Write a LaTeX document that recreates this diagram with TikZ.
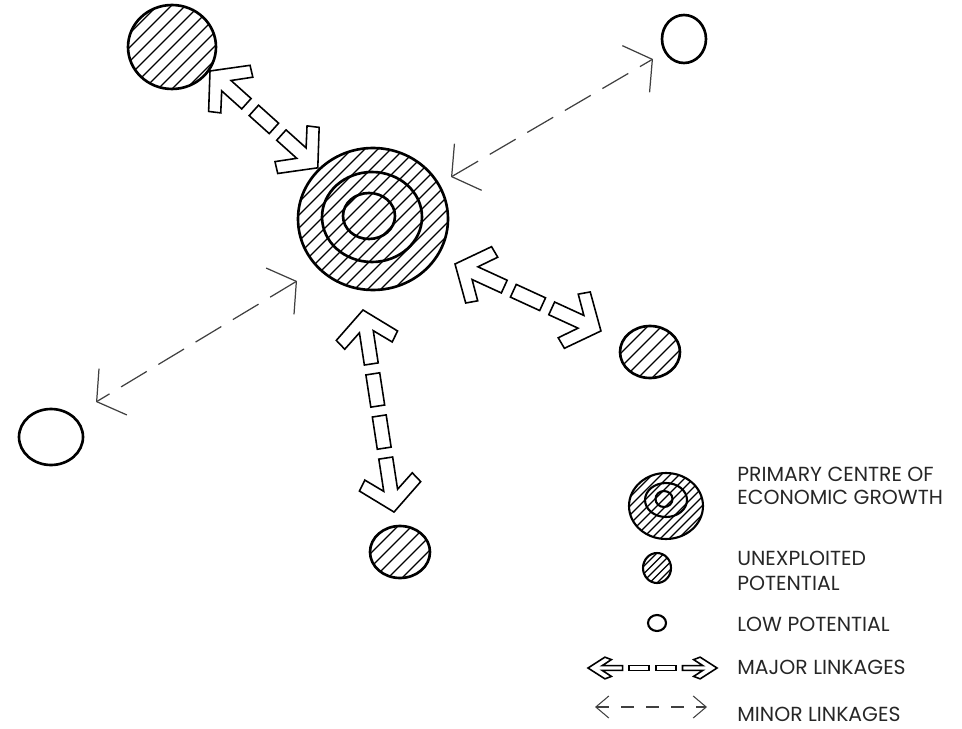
\documentclass[tikz,border=0pt]{standalone}
\usepackage{fontspec}
\setmainfont{Poppins}
\usetikzlibrary{positioning,arrows.meta,calc,shapes.geometric}

% block arrow with a broken shaft, drawn between two named points
\newcommand{\majorlink}[5]{%
  \pgfpointdiff{\pgfpointanchor{#1}{center}}{\pgfpointanchor{#2}{center}}%
  \pgfgetlastxy{\mlx}{\mly}%
  \pgfmathsetmacro{\mlang}{atan2(\mly,\mlx)}%
  \pgfmathsetmacro{\mllen}{veclen(\mlx,\mly)/(0.569055*#4)}%
  \pgfmathsetmacro{\mlpiece}{(\mllen-44-(#3+1)*10)/(#3+2)}%
  \begin{scope}[shift={(#1)}, rotate=\mlang, x=0.02cm, y=0.02cm, xscale=#4, yscale=#5]
    \draw[linkedge] (0,0) -- (26,31) -- (36,24) -- (22,7) -- (22+\mlpiece,7)
      -- (22+\mlpiece,-7) -- (22,-7) -- (36,-24) -- (26,-31) -- cycle;
    \draw[linkedge] (\mllen,0) -- (\mllen-26,31) -- (\mllen-36,24) -- (\mllen-22,7)
      -- (\mllen-22-\mlpiece,7) -- (\mllen-22-\mlpiece,-7) -- (\mllen-22,-7)
      -- (\mllen-36,-24) -- (\mllen-26,-31) -- cycle;
    \foreach \k in {1,...,#3}
      \draw[linkedge] ({22+\k*(\mlpiece+10)},-7) rectangle ++(\mlpiece,14);
  \end{scope}}

\begin{document}
\begin{tikzpicture}[
  x=0.02cm, y=-0.02cm,
  place/.style={ellipse, draw, line width=1.5pt, inner sep=0pt},
  ring/.style={ellipse, draw, line width=1.5pt, inner sep=0pt},
  hatched/.style={path picture={
      \foreach \k in {-20,...,20}
        \draw[line width=0.75pt] ([xshift=\k*#1-4cm, yshift=-4cm]path picture bounding box.center) -- ++(8cm,8cm);}},
  hatched/.default=0.28cm,
  linkedge/.style={draw, line width=0.9pt, fill=white, line join=miter},
  minor/.style={draw=black!75, line width=0.7pt, dash pattern=on 0.6cm off 0.27cm,
      <->, >={Straight Barb[length=3.8mm,width=10.8mm]}},
  keyminor/.style={draw=black!75, line width=0.6pt, dash pattern=on 0.25cm off 0.25cm,
      <->, >={Straight Barb[length=2.6mm,width=4.4mm]}},
  keytext/.style={anchor=west, inner sep=0pt, align=left, text=black!85,
      font=\fontsize{11.6}{13.5}\selectfont}
]
\useasboundingbox (0,0) rectangle (962,729);

% places
\node[place, hatched=0.26cm, minimum width=3cm, minimum height=2.84cm] (centre) at (373,219) {};
\node[ring, minimum width=2cm, minimum height=1.8cm] (centreMid) at (372,217) {};
\node[ring, minimum width=1.04cm, minimum height=0.92cm] (centreIn) at (369,216) {};
\node[place, hatched, minimum width=1.76cm, minimum height=1.68cm] (nw) at (172,47) {};
\node[place, minimum width=0.88cm, minimum height=0.96cm] (ne) at (684,39) {};
\node[place, hatched, minimum width=1.2cm, minimum height=1.04cm] (east) at (650,352) {};
\node[place, hatched, minimum width=1.2cm, minimum height=1.04cm] (south) at (400,552) {};
\node[place, minimum width=1.28cm, minimum height=1.12cm] (sw) at (51,437) {};

% link ends
\coordinate (nwA) at (210,71);   \coordinate (nwB) at (318,168);
\coordinate (eA) at (455,264);   \coordinate (eB) at (601,331);
\coordinate (sA) at (363,310);   \coordinate (sB) at (394,512);
\coordinate (neA) at (451,177);  \coordinate (neB) at (653,59);
\coordinate (swA) at (297,281);  \coordinate (swB) at (96,402);

% major linkages
\majorlink{nwA}{nwB}{1}{1}{1}
\majorlink{eA}{eB}{1}{1}{1}
\majorlink{sA}{sB}{2}{1}{1}

% minor linkages
\draw[minor] (neA) -- (neB);
\draw[minor] (swA) -- (swB);

% key
\node[place, hatched=0.18cm, line width=1.2pt, minimum width=1.48cm, minimum height=1.32cm] (keyCentre) at (666,506) {};
\node[ring, line width=1.2pt, minimum width=0.84cm, minimum height=0.68cm] (keyCentreMid) at (666,500) {};
\node[ring, line width=1.2pt, minimum width=0.34cm, minimum height=0.32cm] (keyCentreIn) at (664,499) {};
\node[place, hatched=0.15cm, line width=1.2pt, minimum width=0.56cm, minimum height=0.6cm] (keyHatch) at (657,568) {};
\node[place, line width=1.2pt, minimum width=0.36cm, minimum height=0.32cm] (keyOpen) at (657,623) {};
\coordinate (keyMajA) at (588,668);  \coordinate (keyMajB) at (717,668);
\coordinate (keyMinA) at (595,707);  \coordinate (keyMinB) at (707,707);
\majorlink{keyMajA}{keyMajB}{2}{0.65}{0.35}
\draw[keyminor] (keyMinA) -- (keyMinB);

\node[keytext] (keyCentreTxt) at (737,486) {PRIMARY CENTRE OF\\ECONOMIC GROWTH};
\node[keytext] (keyHatchTxt) at (737,571) {UNEXPLOITED\\[1pt]POTENTIAL};
\node[keytext] (keyOpenTxt) at (737,624) {LOW POTENTIAL};
\node[keytext] (keyMajTxt) at (737,667) {MAJOR LINKAGES};
\node[keytext] (keyMinTxt) at (737,714) {MINOR LINKAGES};
\end{tikzpicture}
\end{document}
